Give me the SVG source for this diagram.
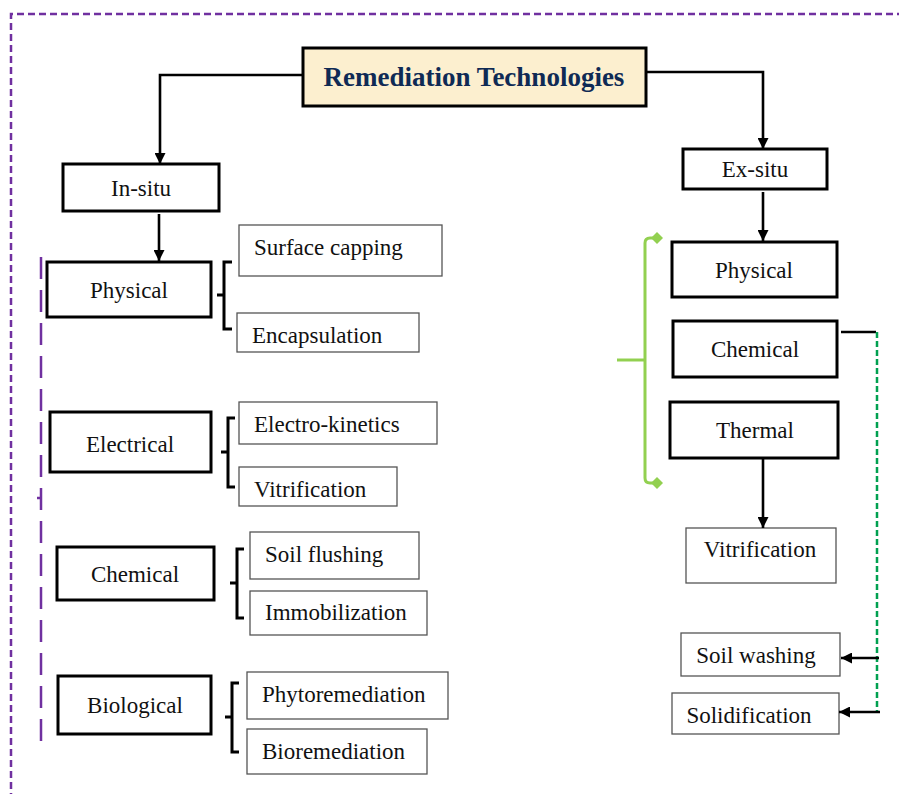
<svg xmlns="http://www.w3.org/2000/svg" width="899" height="794" viewBox="0 0 899 794">
<style>
.thick{fill:#fff;stroke:#000;stroke-width:3}
.thin{fill:#fff;stroke:#555;stroke-width:1.3}
.t{font-family:"Liberation Serif","Times New Roman",serif;font-size:23px;fill:#111}
.c{text-anchor:middle}
.brace{fill:none;stroke:#000;stroke-width:3}
.conn{fill:none;stroke:#000;stroke-width:2.6}
</style>
<defs>
<marker id="arr" viewBox="0 0 10 10" refX="10" refY="5" markerWidth="11" markerHeight="11" markerUnits="userSpaceOnUse" orient="auto">
<path d="M0,0 L10,5 L0,10 z" fill="#000"/>
</marker>
<marker id="dia" viewBox="0 0 10 10" refX="5" refY="5" markerWidth="12" markerHeight="12" markerUnits="userSpaceOnUse" orient="auto">
<path d="M5,0 L10,5 L5,10 L0,5 z" fill="#92D050"/>
</marker>
</defs>
<rect width="899" height="794" fill="#fff"/>
<!-- outer dashed frame -->
<path d="M11,800 V14 H905" fill="none" stroke="#7030A0" stroke-width="2.5" stroke-dasharray="7,4"/>
<!-- left purple dashed bracket -->
<g id="insitu-bracket" fill="none" stroke="#7030A0" stroke-width="2.5">
<path d="M41,257 V741 H45" stroke-dasharray="22,11"/>
<path d="M41,498 H37"/>
</g>
<!-- green bracket -->
<g id="exsitu-bracket" fill="none" stroke="#92D050" stroke-width="3">
<path d="M657,238 H650 Q645,238 645,243 V478 Q645,483 650,483 H657" marker-start="url(#dia)" marker-end="url(#dia)"/>
<path d="M645,360 H617"/>
</g>
<g id="title">
<rect x="303" y="48" width="343" height="58" fill="#FCEFCF" stroke="#000" stroke-width="3"/>
<text x="474" y="86" text-anchor="middle" font-family="'Liberation Serif','Times New Roman',serif" font-size="27" font-weight="bold" fill="#0F2A55">Remediation Technologies</text>
</g>
<g id="in-situ"><rect class="thick" x="63" y="164" width="156" height="47"/><text class="t c" x="141" y="196">In-situ</text></g>
<g id="in-physical"><rect class="thick" x="47" y="262" width="164" height="55"/><text class="t c" x="129" y="298">Physical</text></g>
<g id="surface-capping"><rect class="thin" x="239" y="225" width="203" height="51"/><text class="t" x="254" y="255">Surface capping</text></g>
<g id="encapsulation"><rect class="thin" x="237" y="313" width="182" height="39"/><text class="t" x="252" y="343">Encapsulation</text></g>
<g id="in-electrical"><rect class="thick" x="50" y="412" width="161" height="60"/><text class="t c" x="130" y="452">Electrical</text></g>
<g id="electro-kinetics"><rect class="thin" x="239" y="402" width="198" height="42"/><text class="t" x="254" y="432">Electro-kinetics</text></g>
<g id="in-vitrification"><rect class="thin" x="239" y="467" width="158" height="39"/><text class="t" x="254" y="497">Vitrification</text></g>
<g id="in-chemical"><rect class="thick" x="57" y="547" width="157" height="53"/><text class="t c" x="135" y="582">Chemical</text></g>
<g id="soil-flushing"><rect class="thin" x="250" y="532" width="169" height="47"/><text class="t" x="265" y="562">Soil flushing</text></g>
<g id="immobilization"><rect class="thin" x="250" y="591" width="177" height="44"/><text class="t" x="265" y="620">Immobilization</text></g>
<g id="in-biological"><rect class="thick" x="58" y="676" width="153" height="58"/><text class="t c" x="135" y="713">Biological</text></g>
<g id="phytoremediation"><rect class="thin" x="247" y="672" width="201" height="47"/><text class="t" x="262" y="702">Phytoremediation</text></g>
<g id="bioremediation"><rect class="thin" x="247" y="729" width="180" height="45"/><text class="t" x="262" y="759">Bioremediation</text></g>
<g id="ex-situ"><rect class="thick" x="683" y="149" width="144" height="40"/><text class="t c" x="755" y="177">Ex-situ</text></g>
<g id="ex-physical"><rect class="thick" x="672" y="242" width="165" height="55"/><text class="t c" x="754" y="278">Physical</text></g>
<g id="ex-chemical"><rect class="thick" x="673" y="321" width="164" height="56"/><text class="t c" x="755" y="357">Chemical</text></g>
<g id="ex-thermal"><rect class="thick" x="670" y="402" width="168" height="56"/><text class="t c" x="755" y="438">Thermal</text></g>
<g id="ex-vitrification"><rect class="thin" x="686" y="528" width="150" height="55"/><text class="t c" x="760" y="557">Vitrification</text></g>
<g id="soil-washing"><rect class="thin" x="681" y="633" width="159" height="43"/><text class="t c" x="756" y="663">Soil washing</text></g>
<g id="solidification"><rect class="thin" x="672" y="693" width="167" height="41"/><text class="t c" x="749" y="723">Solidification</text></g>
<g id="braces">
<path class="brace" d="M232,262 H224 V329 H232 M224,295 H217"/>
<path class="brace" d="M235,418 H228 V487 H235 M228,452 H221"/>
<path class="brace" d="M244,549 H237 V618 H244 M237,583 H230"/>
<path class="brace" d="M239,683 H232 V752 H239 M232,717 H225"/>
</g>
<g id="connectors">
<path class="conn" d="M303,75 H160 V164" stroke-width="3" marker-end="url(#arr)"/>
<path class="conn" d="M646,72 H763 V149" marker-end="url(#arr)"/>
<path class="conn" d="M159,214 V261" marker-end="url(#arr)"/>
<path class="conn" d="M763,192 V241" marker-end="url(#arr)"/>
<path class="conn" d="M763,458 V528" marker-end="url(#arr)"/>
<path class="conn" d="M841,332 H876"/>
<path d="M877,332 V712" fill="none" stroke="#00A050" stroke-width="2.5" stroke-dasharray="6,3"/>
<path class="conn" d="M879,658 H841" marker-end="url(#arr)"/>
<path class="conn" d="M880,712 H839" marker-end="url(#arr)"/>
</g>
</svg>
